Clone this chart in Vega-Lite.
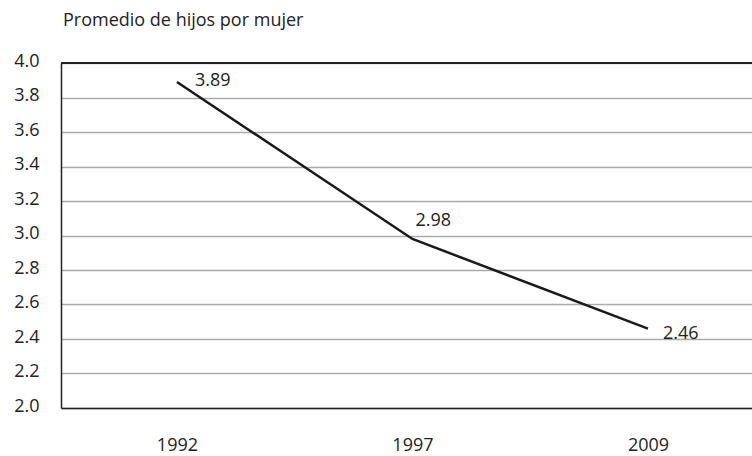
{
  "$schema": "https://vega.github.io/schema/vega-lite/v6.json",
  "width": 691,
  "height": 345,
  "autosize": {"type": "none"},
  "padding": {"left": 61, "top": 63, "right": 0, "bottom": 48},
  "background": "white",
  "config": {
    "view": {"stroke": null},
    "font": "Open Sans",
    "text": {"font": "Open Sans"}
  },
  "title": {
    "text": "Promedio de hijos por mujer",
    "anchor": "start",
    "frame": "group",
    "font": "Open Sans",
    "fontSize": 18,
    "fontWeight": "normal",
    "color": "#222222",
    "offset": 22,
    "dx": 2
  },
  "data": {
    "values": [
      {"year": "1992", "value": 3.89, "label": "3.89"},
      {"year": "1997", "value": 2.98, "label": "2.98"},
      {"year": "2009", "value": 2.46, "label": "2.46"}
    ]
  },
  "encoding": {
    "x": {
      "field": "year",
      "type": "ordinal",
      "scale": {"type": "point", "padding": 0.467, "align": 0.527},
      "axis": {
        "title": null,
        "labelAngle": 0,
        "ticks": false,
        "labelPadding": 28,
        "labelFontSize": 18,
        "labelColor": "#222222",
        "labelFont": "Open Sans",
        "domainColor": "#222222",
        "domainWidth": 1.5,
        "grid": false
      }
    },
    "y": {
      "field": "value",
      "type": "quantitative",
      "scale": {"domain": [2, 4], "nice": false, "zero": false},
      "axis": {
        "title": null,
        "values": [2, 2.2, 2.4, 2.6, 2.8, 3, 3.2, 3.4, 3.6, 3.8, 4],
        "format": ".1f",
        "ticks": false,
        "labelPadding": 22,
        "labelFontSize": 18,
        "labelColor": "#222222",
        "labelFont": "Open Sans",
        "labelOffset": -2,
        "domainColor": "#222222",
        "domainWidth": 1.5,
        "grid": true,
        "gridColor": "#aaaaaa",
        "gridWidth": 1.5
      }
    }
  },
  "layer": [
    {
      "mark": {"type": "rule", "color": "#222222", "strokeWidth": 1.5},
      "encoding": {"y": {"datum": 4}, "x": null}
    },
    {
      "mark": {"type": "line", "color": "#1a1a1a", "strokeWidth": 2.5}
    },
    {
      "transform": [{"filter": "datum.year == '1992'"}],
      "mark": {"type": "text", "align": "left", "baseline": "middle", "dx": 18, "dy": -1, "fontSize": 18, "color": "#222222"},
      "encoding": {"text": {"field": "label"}}
    },
    {
      "transform": [{"filter": "datum.year == '1997'"}],
      "mark": {"type": "text", "align": "left", "baseline": "middle", "dx": 3, "dy": -18, "fontSize": 18, "color": "#222222"},
      "encoding": {"text": {"field": "label"}}
    },
    {
      "transform": [{"filter": "datum.year == '2009'"}],
      "mark": {"type": "text", "align": "left", "baseline": "middle", "dx": 15, "dy": 5, "fontSize": 18, "color": "#222222"},
      "encoding": {"text": {"field": "label"}}
    }
  ]
}
